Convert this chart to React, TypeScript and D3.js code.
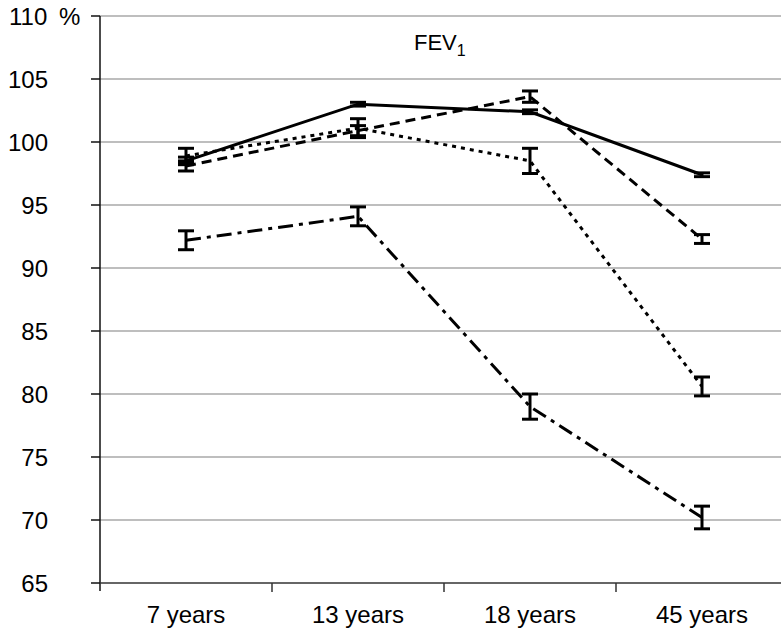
import React from "react";
import * as d3 from "d3";

const categories = ["7 years", "13 years", "18 years", "45 years"];
const yTicks = [65, 70, 75, 80, 85, 90, 95, 100, 105, 110];

const solidMean = [98.5, 103.0, 102.4, 97.4];
const solidErr = [0.3, 0.15, 0.15, 0.15];
const dashedMean = [98.1, 100.9, 103.6, 92.3];
const dashedErr = [0.4, 0.4, 0.45, 0.35];
const dottedMean = [98.9, 101.1, 98.5, 80.6];
const dottedErr = [0.6, 0.75, 1.0, 0.75];
const dashDotMean = [92.2, 94.1, 79.0, 70.2];
const dashDotErr = [0.75, 0.75, 1.0, 0.9];

const series = [
  { name: "dashdot", mean: dashDotMean, err: dashDotErr, dash: "15,6,4,6" },
  { name: "dotted", mean: dottedMean, err: dottedErr, dash: "4,5" },
  { name: "dashed", mean: dashedMean, err: dashedErr, dash: "10,6" },
  { name: "solid", mean: solidMean, err: solidErr, dash: "none" },
];

export default function App() {
  const W = 781;
  const H = 630;
  const left = 100;
  const x = d3.scaleBand<string>().domain(categories).range([left, 788]);
  const y = d3.scaleLinear().domain([65, 110]).range([583, 16]);
  const cx = (c: string) => (x(c) as number) + x.bandwidth() / 2;
  const line = d3
    .line<number>()
    .x((_, i) => cx(categories[i]))
    .y((d) => y(d));
  const font = "'Liberation Sans', Arial, Helvetica, sans-serif";

  return (
    <svg
      width={W}
      height={H}
      style={{ position: "absolute", left: 0, top: 0, background: "#fff" }}
      fontFamily={font}
    >
      {/* gridlines */}
      {yTicks.slice(1).map((t) => (
        <line key={"g" + t} x1={left} x2={W} y1={y(t)} y2={y(t)} stroke="#a8a8a8" strokeWidth={1.5} />
      ))}
      {/* y axis */}
      <line x1={left} x2={left} y1={y(110)} y2={591} stroke="#111" strokeWidth={1.5} />
      {yTicks.map((t) => (
        <line key={"t" + t} x1={91} x2={left} y1={y(t)} y2={y(t)} stroke="#111" strokeWidth={1.5} />
      ))}
      {yTicks.map((t) =>
        t === 110 ? (
          <text key={"l" + t} x={9} y={y(t) + 8.5} fontSize={24} fill="#000">
            {"110 "}
            <tspan x={59}>%</tspan>
          </text>
        ) : (
          <text key={"l" + t} x={48} y={y(t) + 8.5} fontSize={24} textAnchor="end" fill="#000">
            {t}
          </text>
        )
      )}
      {/* x axis */}
      <line x1={left} x2={W} y1={y(65)} y2={y(65)} stroke="#333" strokeWidth={1.5} />
      {categories.map((c) => (
        <line
          key={"xt" + c}
          x1={(x(c) as number) + x.bandwidth()}
          x2={(x(c) as number) + x.bandwidth()}
          y1={y(65)}
          y2={592}
          stroke="#333"
          strokeWidth={1.5}
        />
      ))}
      {categories.map((c) => (
        <text key={"xl" + c} x={cx(c)} y={623} fontSize={24} textAnchor="middle" fill="#000">
          {c}
        </text>
      ))}
      {/* title */}
      <text x={414} y={50} fontSize={22} fill="#000">
        FEV<tspan fontSize={16} dy={6}>1</tspan>
      </text>
      {/* series */}
      {series.map((s) => (
        <g key={s.name}>
          <path
            d={line(s.mean) || ""}
            fill="none"
            stroke="#000"
            strokeWidth={3}
            strokeDasharray={s.dash}
          />
          {s.mean.map((m, i) => {
            const px = cx(categories[i]);
            const y1 = y(m + s.err[i]);
            const y2 = y(m - s.err[i]);
            return (
              <g key={i}>
                <line x1={px} x2={px} y1={y1} y2={y2} stroke="#000" strokeWidth={3} />
                <line x1={px - 8} x2={px + 8} y1={y1} y2={y1} stroke="#000" strokeWidth={3} />
                <line x1={px - 8} x2={px + 8} y1={y2} y2={y2} stroke="#000" strokeWidth={3} />
              </g>
            );
          })}
        </g>
      ))}
    </svg>
  );
}
